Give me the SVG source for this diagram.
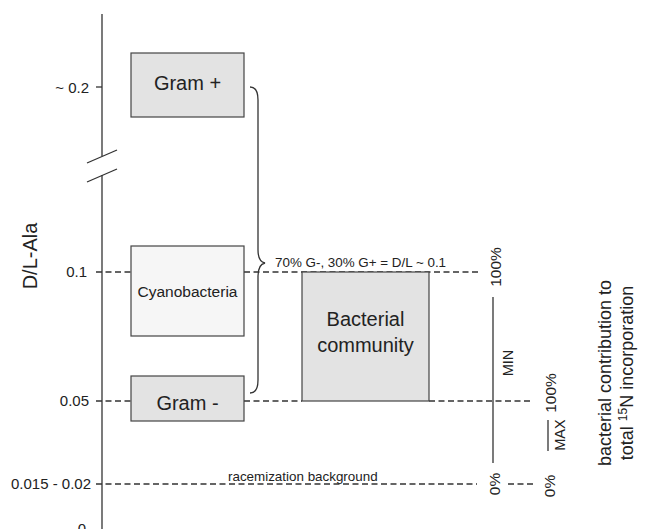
<svg xmlns="http://www.w3.org/2000/svg" width="666" height="529" viewBox="0 0 666 529">
<style>
text{font-family:"Liberation Sans",Arial,sans-serif;fill:#222}
.ax{font-size:15px;text-anchor:end}
.ln{stroke:#333;stroke-width:1.3;fill:none}
.dash{stroke:#333;stroke-width:1.3;fill:none;stroke-dasharray:6 3.5}
.box{stroke:#444;stroke-width:1.2}
.dark{fill:#e3e3e3}
.light{fill:#f6f6f6}
.c{text-anchor:middle}
</style>
<rect width="666" height="529" fill="#fff"/>
<g id="connectors">
<line class="ln" x1="102" y1="14" x2="102" y2="156"/>
<line class="ln" x1="102" y1="175" x2="102" y2="529"/>
<line class="ln" x1="87" y1="163" x2="117" y2="150"/>
<line class="ln" x1="87" y1="182" x2="117" y2="169"/>
<line class="ln" x1="96" y1="87" x2="102" y2="87"/>
<line class="dash" x1="96" y1="272" x2="131" y2="272"/>
<line class="dash" x1="244" y1="272" x2="478" y2="272"/>
<line class="dash" x1="96" y1="401" x2="131" y2="401"/>
<line class="dash" x1="244" y1="401" x2="302" y2="401"/>
<line class="dash" x1="429" y1="401" x2="533" y2="401"/>
<line class="dash" x1="96" y1="484" x2="477" y2="484"/>
<line class="dash" x1="508" y1="484" x2="533" y2="484"/>
<line class="ln" x1="493" y1="297" x2="493" y2="463"/>
<line class="ln" x1="548" y1="420" x2="548" y2="451"/>
<path class="ln" d="M250,87 C256,87 258,92 258,100 L258,250 C258,258 260,262 265,263 C260,264 258,268 258,276 L258,380 C258,388 256,393 250,393"/>
</g>
<g id="axis-labels">
<text class="ax" x="89" y="93">~ 0.2</text>
<text class="ax" x="87" y="277">0.1</text>
<text class="ax" x="89" y="406">0.05</text>
<text class="ax" x="91" y="489">0.015 - 0.02</text>
<text class="ax" x="86" y="534">0</text>
<text x="37" y="256" font-size="20" class="c" transform="rotate(-90 37 256)">D/L-Ala</text>
</g>
<g id="gram-plus">
<rect class="box dark" x="131" y="53" width="113" height="64"/>
<text x="187.5" y="90" font-size="20" class="c">Gram +</text>
</g>
<g id="cyanobacteria">
<rect class="box light" x="131" y="246" width="113" height="90"/>
<text x="187.5" y="297" font-size="15.5" class="c">Cyanobacteria</text>
</g>
<g id="gram-minus">
<rect class="box dark" x="131" y="376" width="113" height="45"/>
<text x="187.5" y="410" font-size="20" class="c">Gram -</text>
</g>
<g id="bacterial-community">
<rect class="box dark" x="302" y="272" width="127" height="129"/>
<text x="365.5" y="326" font-size="20" class="c">Bacterial</text>
<text x="365.5" y="352" font-size="20" class="c">community</text>
</g>
<g id="labels">
<text x="275" y="267" font-size="13.4">70% G-, 30% G+ = D/L ~ 0.1</text>
<text x="228" y="481" font-size="13.4">racemization background</text>
<text x="501" y="267" font-size="15.5" class="c" transform="rotate(-90 501 267)">100%</text>
<text x="556" y="393" font-size="15.5" class="c" transform="rotate(-90 556 393)">100%</text>
<text x="500" y="484" font-size="15.5" class="c" transform="rotate(-90 500 484)">0%</text>
<text x="555" y="486" font-size="15.5" class="c" transform="rotate(-90 555 486)">0%</text>
<text x="513" y="363" font-size="14.5" class="c" transform="rotate(-90 513 363)">MIN</text>
<text x="565" y="435" font-size="14.5" class="c" transform="rotate(-90 565 435)">MAX</text>
<text x="611" y="373" font-size="18" class="c" transform="rotate(-90 611 373)">bacterial contribution to</text>
<text x="633" y="373" font-size="18" class="c" transform="rotate(-90 633 373)">total <tspan font-size="12" dy="-6">15</tspan><tspan dy="6">N incorporation</tspan></text>
</g>
</svg>
